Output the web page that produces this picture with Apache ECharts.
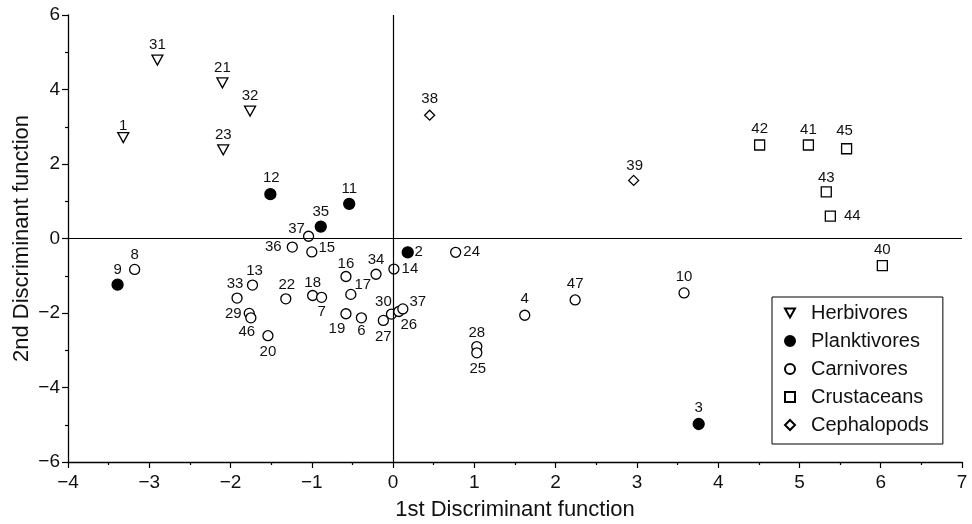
<!DOCTYPE html>
<html>
<head>
<meta charset="utf-8">
<script src="https://cdn.jsdelivr.net/npm/echarts@6/dist/echarts.min.js"></script>
<style>
  html, body { margin: 0; padding: 0; background: #fff; }
  #chart { width: 972px; height: 524px; }
</style>
</head>
<body>
<div id="chart"></div>
<script>
// discriminant scores, one set per diet group
var herbIds = ['31', '21', '32', '1', '23'];
var herbX = [-2.90, -2.10, -1.76, -3.32, -2.09];
var herbY = [4.79, 4.18, 3.42, 2.71, 2.38];

var plankIds = ['12', '11', '35', '2', '9', '3'];
var plankX = [-1.51, -0.54, -0.89, 0.18, -3.39, 3.76];
var plankY = [1.19, 0.93, 0.32, -0.37, -1.24, -4.98];

var carnIds = ['37', '36', '15', '24', '14', '16', '34', '17', '13', '33', '22', '18', '7', '29',
               '46', '20', '19', '6', '27', '30', '26', '37', '4', '47', '28', '25', '10', '8'];
var carnX = [-1.04, -1.24, -1.00, 0.77, 0.01, -0.58, -0.21, -0.52, -1.73, -1.92, -1.32, -0.99, -0.88, -1.77,
             -1.75, -1.54, -0.58, -0.39, -0.12, -0.02, 0.07, 0.12, 1.62, 2.24, 1.03, 1.03, 3.58, -3.18];
var carnY = [0.06, -0.23, -0.36, -0.37, -0.82, -1.02, -0.96, -1.50, -1.25, -1.60, -1.62, -1.53, -1.58, -2.01,
             -2.13, -2.61, -2.02, -2.13, -2.20, -2.03, -1.96, -1.89, -2.06, -1.65, -2.90, -3.07, -1.46, -0.83];

var crustIds = ['42', '41', '45', '43', '44', '40'];
var crustX = [4.51, 5.11, 5.58, 5.33, 5.38, 6.02];
var crustY = [2.51, 2.51, 2.41, 1.25, 0.60, -0.73];

var cephIds = ['38', '39'];
var cephX = [0.45, 2.96];
var cephY = [3.31, 1.56];

var groups = ['Herbivores', 'Planktivores', 'Carnivores', 'Crustaceans', 'Cephalopods'];
var xTicks = { min: -4, max: 7, step: 1 };
var yTicks = { min: -6, max: 6, step: 2 };

// where each number sits relative to its marker (px), default is straight above
var UP = [0, -15];
var herbLabelOff = [UP, UP, UP, [0, -12], UP];
var plankLabelOff = [[1, -16], UP, UP, [11, 0], UP, [0, -16]];
var carnLabelOff = [[-12, -7], [-19, 0], [15, -4], [16, 0], [16, 0], [0, -13], [0, -14], [12, -10],
                    [2, -14], [-2, -14], [1, -14], [0, -13], [0, 15], [-16, 0], [-4, 14], [0, 16],
                    [-9, 15], [0, 13], [0, 16], [-8, -12], [10, 13], [15, -7], [0, -16], [0, -16],
                    [0, -14], [1, 16], [0, -16], UP];
var crustLabelOff = [[0, -16], UP, [-2, -18], [0, -14], [22, 0], [0, -16]];
var cephLabelOff = [[0, -16], [1, -15]];

var FONT = 'Liberation Sans, Arial, Helvetica, sans-serif';
var DOWN_TRIANGLE = 'path://M0,0 L10,0 L5,9 Z';

function toPoints(ids, xs, ys, offs) {
    return ids.map(function (id, i) {
        return {
            value: [xs[i], ys[i]],
            name: id,
            label: { offset: offs[i] }
        };
    });
}

function minus(v) {
    return String(v).replace('-', '\u2212');
}

function makeSeries(name, ids, xs, ys, offs, symbol, size, filled) {
    return {
        name: name,
        type: 'scatter',
        symbol: symbol,
        symbolSize: size,
        data: toPoints(ids, xs, ys, offs),
        itemStyle: {
            color: filled ? '#000' : '#fff',
            borderColor: '#000',
            borderWidth: 1.3,
            opacity: 1
        },
        label: {
            show: true,
            position: 'inside',
            formatter: '{b}',
            color: '#111',
            fontFamily: FONT,
            fontSize: 15
        },
        emphasis: { disabled: true },
        z: 3
    };
}

var series = [
    makeSeries(groups[0], herbIds, herbX, herbY, herbLabelOff, DOWN_TRIANGLE, [11, 10], false),
    makeSeries(groups[1], plankIds, plankX, plankY, plankLabelOff, 'circle', 11, true),
    makeSeries(groups[2], carnIds, carnX, carnY, carnLabelOff, 'circle', 10, false),
    makeSeries(groups[3], crustIds, crustX, crustY, crustLabelOff, 'rect', 10, false),
    makeSeries(groups[4], cephIds, cephX, cephY, cephLabelOff, 'diamond', 10, false)
];

// zero lines through the origin
series.push({
    type: 'scatter',
    data: [],
    silent: true,
    markLine: {
        silent: true,
        symbol: 'none',
        label: { show: false },
        lineStyle: { color: '#000', width: 1.2, type: 'solid' },
        data: [{ xAxis: 0 }, { yAxis: 0 }]
    },
    z: 1
});

var legendIcons = [DOWN_TRIANGLE, 'circle', 'circle', 'rect', 'diamond'];

var chart = echarts.init(document.getElementById('chart'), null, { renderer: 'canvas' });
chart.setOption({
    animation: false,
    backgroundColor: '#fff',
    grid: { left: 68, right: 10, top: 15, bottom: 62, containLabel: false, outerBoundsMode: 'none' },
    legend: {
        orient: 'vertical',
        left: 772,
        top: 297,
        padding: [5, 14, 8, 12],
        itemWidth: 10,
        itemHeight: 10,
        itemGap: 6,
        borderColor: '#000',
        borderWidth: 1,
        backgroundColor: '#fff',
        selectedMode: false,
        textStyle: { fontFamily: FONT, fontSize: 20, lineHeight: 22, color: '#111', padding: [0, 0, 0, 11] },
        data: groups.map(function (g, i) {
            return { name: g, icon: legendIcons[i] };
        })
    },
    xAxis: {
        type: 'value',
        min: xTicks.min,
        max: xTicks.max,
        interval: xTicks.step,
        name: '1st Discriminant function',
        nameLocation: 'middle',
        nameGap: 37,
        nameTextStyle: { fontFamily: FONT, fontSize: 22, color: '#111' },
        axisLine: { onZero: false, lineStyle: { color: '#000', width: 1.3 } },
        axisTick: { show: true, length: 6, lineStyle: { color: '#000', width: 1.2 } },
        minorTick: { show: true, splitNumber: 2, length: 3, lineStyle: { color: '#000', width: 1.2 } },
        axisLabel: { fontFamily: FONT, fontSize: 19, color: '#111', margin: 11, formatter: minus },
        splitLine: { show: false }
    },
    yAxis: {
        type: 'value',
        min: yTicks.min,
        max: yTicks.max,
        interval: yTicks.step,
        name: '2nd Discriminant function',
        nameLocation: 'middle',
        nameGap: 35,
        nameMoveOverlap: false,
        nameTextStyle: { fontFamily: FONT, fontSize: 22, color: '#111' },
        axisLine: { onZero: false, lineStyle: { color: '#000', width: 1.3 } },
        axisTick: { show: true, length: 6, lineStyle: { color: '#000', width: 1.2 } },
        minorTick: { show: true, splitNumber: 2, length: 3, lineStyle: { color: '#000', width: 1.2 } },
        axisLabel: { fontFamily: FONT, fontSize: 19, color: '#111', margin: 8, formatter: minus },
        splitLine: { show: false }
    },
    series: series
});
</script>
</body>
</html>
